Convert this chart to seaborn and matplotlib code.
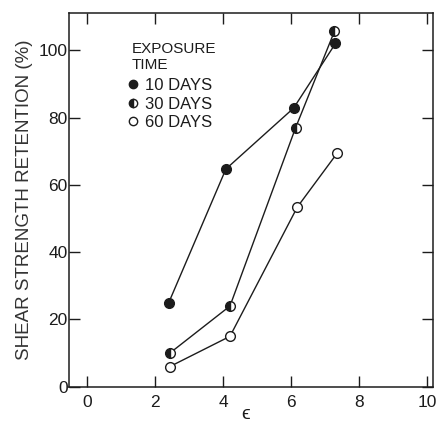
import matplotlib
matplotlib.use("Agg")
import matplotlib.pyplot as plt
from matplotlib.lines import Line2D
import numpy as np
import pandas as pd
import seaborn as sns

# Shear strength retention (%) versus strain epsilon, per exposure time
strain_10 = [2.4, 4.08, 6.07, 7.3]
retention_10 = [25, 64.7, 82.8, 102]

strain_30 = [2.43, 4.2, 6.13, 7.27]
retention_30 = [10, 24, 77, 105.6]

strain_60 = [2.43, 4.2, 6.18, 7.35]
retention_60 = [6, 15, 53.4, 69.4]

labels = ["10 DAYS", "30 DAYS", "60 DAYS"]
x_ticks = [0, 2, 4, 6, 8, 10]
y_ticks = [0, 20, 40, 60, 80, 100]

sns.set_theme(style="ticks")
plt.rcParams["font.family"] = ["Liberation Sans", "DejaVu Sans"]

ink = "#1c1c1c"
fig = plt.figure(figsize=(4.40, 4.26), dpi=100)
ax = fig.add_axes([0.157, 0.092, 0.828, 0.877])

series = [
    (strain_10, retention_10, dict(fillstyle="full", markerfacecolor=ink)),
    (strain_30, retention_30, dict(fillstyle="left", markerfacecolor=ink,
                                   markerfacecoloralt="white")),
    (strain_60, retention_60, dict(fillstyle="full", markerfacecolor="white")),
]
for (xs, ys, mk), lab in zip(series, labels):
    df = pd.DataFrame({"strain": xs, "retention": ys})
    sns.lineplot(data=df, x="strain", y="retention", ax=ax, color=ink,
                 linewidth=1.0, marker="o", markersize=7,
                 markeredgecolor=ink, markeredgewidth=1.0, sort=False,
                 zorder=3, **mk)

ax.set_xlim(-0.53, 10.18)
ax.set_ylim(0, 111)
ax.set_xticks(x_ticks)
ax.set_yticks(y_ticks)
ax.tick_params(direction="in", top=True, right=True, length=8, width=1.0,
               colors=ink, labelsize=12.5)
ax.tick_params(axis="y", pad=1)
ax.tick_params(axis="x", pad=6)
ax.tick_params(labeltop=False, labelright=False)
for s in ax.spines.values():
    s.set_visible(True)
    s.set_color(ink)
    s.set_linewidth(1.1)

ax.set_xlabel("ϵ", fontsize=14, color=ink)
ax.xaxis.label.set_verticalalignment("center")
ax.xaxis.set_label_coords(0.485, -0.075)
ax.set_ylabel("SHEAR STRENGTH RETENTION (%)", fontsize=13.5, color="#333333",
              labelpad=4)

# Legend: heading text plus marker-only entries
ax.text(132 / 440, 1 - 57 / 426, "EXPOSURE\nTIME", transform=fig.transFigure,
        ha="left", va="center", fontsize=11, color=ink, linespacing=1.25)
handles = [
    Line2D([], [], linestyle="none", marker="o", markersize=6, color=ink,
           markeredgecolor=ink, **series[0][2]),
    Line2D([], [], linestyle="none", marker="o", markersize=6, color=ink,
           markeredgecolor=ink, **series[1][2]),
    Line2D([], [], linestyle="none", marker="o", markersize=6, color=ink,
           markeredgecolor=ink, **series[2][2]),
]
leg = ax.legend(handles, labels, loc="upper left",
                bbox_to_anchor=(129 / 440, 1 - 78 / 426),
                bbox_transform=fig.transFigure, frameon=False,
                fontsize=12, handlelength=0.5, handletextpad=0.45,
                labelspacing=0.22, borderpad=0, borderaxespad=0)
for t in leg.get_texts():
    t.set_color(ink)

fig.savefig("out.png", dpi=100, facecolor="white")
